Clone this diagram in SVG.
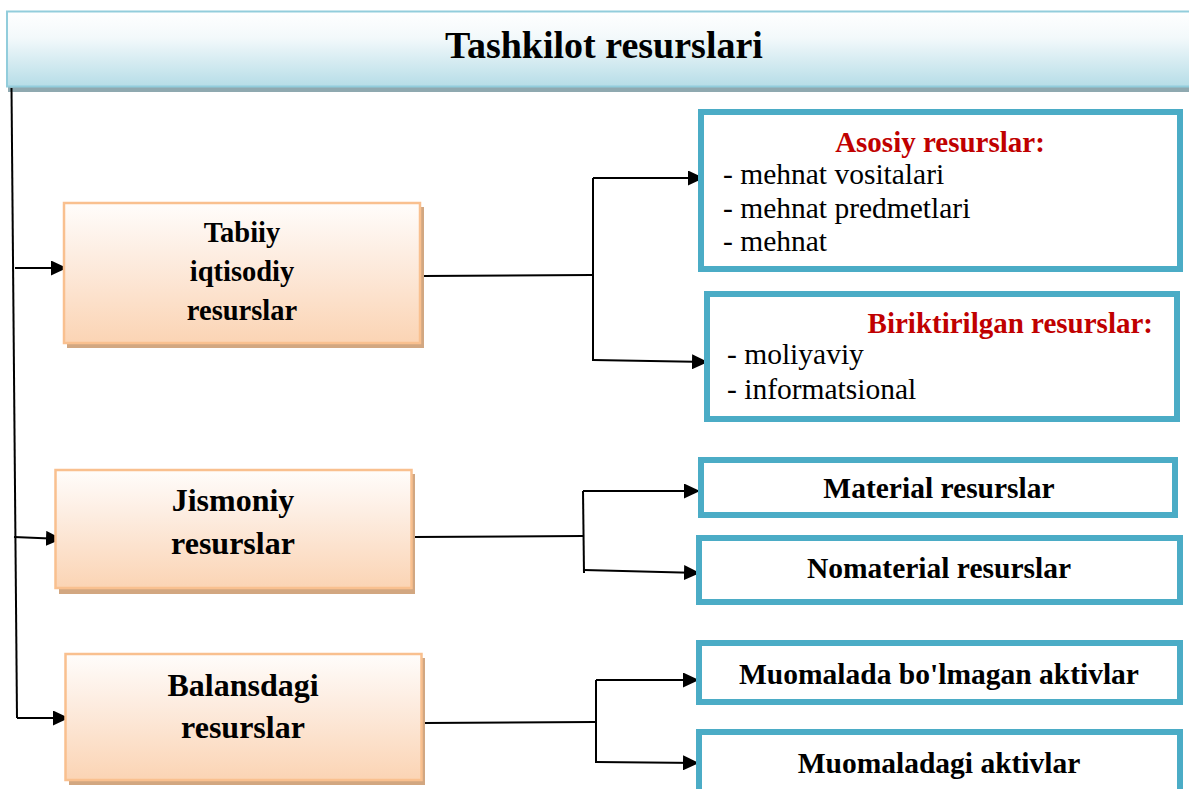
<svg xmlns="http://www.w3.org/2000/svg" width="1189" height="789" viewBox="0 0 1189 789">
<defs>
<linearGradient id="gTitle" x1="0" y1="0" x2="0" y2="1">
<stop offset="0" stop-color="#ffffff"/><stop offset="0.35" stop-color="#f3f9fb"/><stop offset="1" stop-color="#b6dde7"/>
</linearGradient>
<linearGradient id="gOrange" x1="0" y1="0" x2="0" y2="1">
<stop offset="0" stop-color="#fffdfb"/><stop offset="0.35" stop-color="#fdeee3"/><stop offset="1" stop-color="#fbd4b4"/>
</linearGradient>
<marker id="arr" markerUnits="userSpaceOnUse" markerWidth="17" markerHeight="15" refX="16" refY="7.5" orient="auto">
<path d="M0,0 L16,7.5 L0,15 Z" fill="#000"/>
</marker>
<style>
.shadow{fill:#d2a781}
.obox{fill:url(#gOrange);stroke:#f9c08f;stroke-width:2.5}
.bbox{fill:#ffffff;stroke:#4bacc6;stroke-width:6}
.otxt{font-family:"Liberation Serif","Times New Roman",serif;font-weight:bold;font-size:28.5px;fill:#000;text-anchor:middle}
.otxt2{font-family:"Liberation Serif","Times New Roman",serif;font-weight:bold;font-size:32px;fill:#000;text-anchor:middle}
.btxt{font-family:"Liberation Serif","Times New Roman",serif;font-weight:bold;font-size:29.5px;fill:#000;text-anchor:middle}
.red{font-family:"Liberation Serif","Times New Roman",serif;font-weight:bold;font-size:29px;fill:#c00000}
.item{font-family:"Liberation Serif","Times New Roman",serif;font-size:29.5px;fill:#000}
.ln{fill:none;stroke:#000;stroke-width:2}
</style>
</defs>
<rect width="1189" height="789" fill="#ffffff"/>

<g id="title">
<rect x="8" y="86" width="1190" height="6" fill="#8fa9b0"/>
<rect x="7" y="11.5" width="1190" height="75" fill="url(#gTitle)" stroke="#92cddc" stroke-width="2"/>
<text x="604" y="58" style="font-family:'Liberation Serif','Times New Roman',serif;font-weight:bold;font-size:38px;text-anchor:middle;fill:#000">Tashkilot resurslari</text>
</g>

<g id="connectors">
<path class="ln" d="M11.5,88 L17,718"/>
<path class="ln" d="M15,268 L67,268" marker-end="url(#arr)"/>
<path class="ln" d="M14,537 L62,539" marker-end="url(#arr)"/>
<path class="ln" d="M17,718 L69,718" marker-end="url(#arr)"/>

<path class="ln" d="M423,276 L592,275"/>
<path class="ln" d="M593,178 L593,361"/>
<path class="ln" d="M593,178 L704,178" marker-end="url(#arr)"/>
<path class="ln" d="M593,360 L708,362" marker-end="url(#arr)"/>

<path class="ln" d="M413,537 L583,536"/>
<path class="ln" d="M583,491 L584,573"/>
<path class="ln" d="M583,491 L700,491" marker-end="url(#arr)"/>
<path class="ln" d="M584,570 L700,573" marker-end="url(#arr)"/>

<path class="ln" d="M424,723 L595,722"/>
<path class="ln" d="M596,680 L596,763"/>
<path class="ln" d="M596,680 L699,680" marker-end="url(#arr)"/>
<path class="ln" d="M596,762 L699,763" marker-end="url(#arr)"/>
</g>

<g id="tabiiy">
<rect class="shadow" x="67" y="207" width="357" height="141"/>
<rect class="obox" x="64" y="203" width="356" height="140"/>
<text class="otxt" x="242" y="242">Tabiiy</text>
<text class="otxt" x="242" y="281">iqtisodiy</text>
<text class="otxt" x="242" y="320">resurslar</text>
</g>

<g id="jismoniy">
<rect class="shadow" x="59" y="474" width="356" height="120"/>
<rect class="obox" x="55.5" y="470" width="356" height="118"/>
<text class="otxt2" x="233" y="511">Jismoniy</text>
<text class="otxt2" x="233" y="554">resurslar</text>
</g>

<g id="balansdagi">
<rect class="shadow" x="69" y="658" width="356" height="127"/>
<rect class="obox" x="65.5" y="654" width="356" height="126"/>
<text class="otxt2" x="243" y="696">Balansdagi</text>
<text class="otxt2" x="243" y="738">resurslar</text>
</g>

<g id="asosiy">
<rect class="bbox" x="701" y="112" width="479" height="157"/>
<text class="red" x="940" y="152" text-anchor="middle">Asosiy resurslar:</text>
<text class="item" x="723" y="184">- mehnat vositalari</text>
<text class="item" x="723" y="218">- mehnat predmetlari</text>
<text class="item" x="723" y="251">- mehnat</text>
</g>

<g id="biriktirilgan">
<rect class="bbox" x="707" y="294" width="470" height="125"/>
<text class="red" x="1153" y="333" text-anchor="end">Biriktirilgan resurslar:</text>
<text class="item" x="727" y="364">- moliyaviy</text>
<text class="item" x="727" y="399">- informatsional</text>
</g>

<g id="material">
<rect class="bbox" x="701" y="460" width="474" height="55"/>
<text class="btxt" x="939" y="498">Material resurslar</text>
</g>

<g id="nomaterial">
<rect class="bbox" x="699" y="538" width="481" height="64"/>
<text class="btxt" x="939" y="578">Nomaterial resurslar</text>
</g>

<g id="muomalada">
<rect class="bbox" x="699" y="643" width="481" height="59"/>
<text class="btxt" x="939" y="684">Muomalada bo'lmagan aktivlar</text>
</g>

<g id="muomaladagi">
<rect class="bbox" x="699" y="732" width="481" height="70"/>
<text class="btxt" x="939" y="773">Muomaladagi aktivlar</text>
</g>
</svg>
